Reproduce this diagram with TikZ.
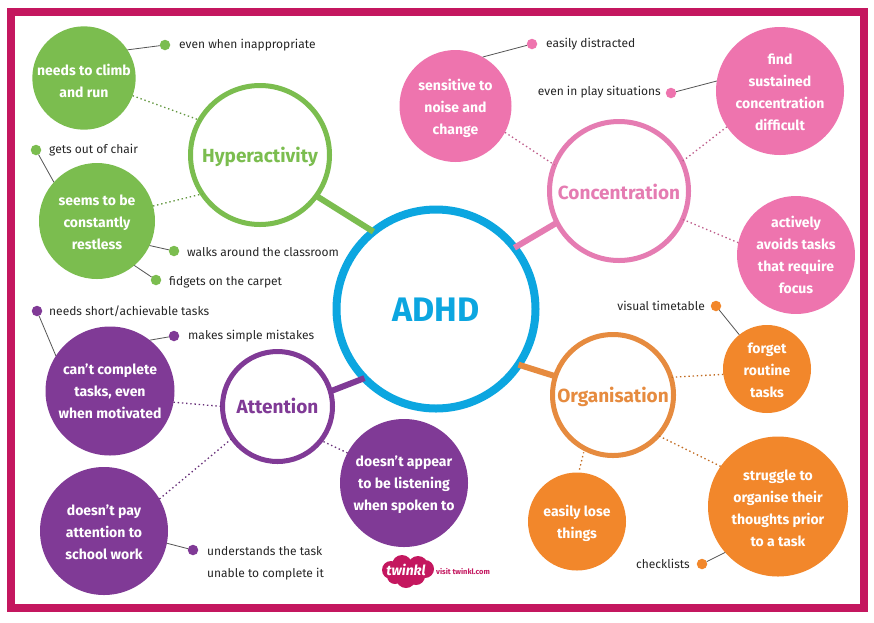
\documentclass[tikz,border=0pt]{standalone}
\usepackage{fontspec}
\setmainfont{Fira Sans}
\definecolor{frame}{HTML}{C4175F}
\definecolor{grn}{HTML}{7BBD4F}
\definecolor{pnk}{HTML}{EE74AE}
\definecolor{pnkr}{HTML}{E57CB2}
\definecolor{ppl}{HTML}{803A96}
\definecolor{org}{HTML}{F2872B}
\definecolor{orgr}{HTML}{E68B3F}
\definecolor{blu}{HTML}{0CA6E0}
\definecolor{wire}{HTML}{555555}
\newcommand\tlines[2][0pt]{\raisebox{-#1}[\height][\depth]{\begin{tabular}{@{}c@{}}#2\end{tabular}}}
\newcommand\tdown[2]{\raisebox{-#1}[\height][\depth]{#2}}
\tikzset{
  x=1pt,y=-1pt,
  leaf/.style n args={2}{circle,fill=#1,minimum size=#2,inner sep=0pt,outer sep=0pt,text=white,font=\fontsize{14}{22}\selectfont\bfseries},
  hub/.style n args={2}{circle,draw=#1,line width=5pt,fill=white,minimum size=#2,inner sep=0pt,outer sep=0pt,text=#1,font=\fontsize{19}{23}\selectfont\bfseries},
  dotn/.style={circle,fill=#1,minimum size=10.5pt,inner sep=0pt,outer sep=0pt},
  lab/.style={font=\fontsize{12}{22}\selectfont,text=black!85,inner sep=0pt,align=left},
  wirel/.style={draw=wire,line width=.8pt},
  dots/.style={draw=#1!80!black,line width=1.3pt,dash pattern=on 1.4pt off 2.8pt},
  stem/.style={draw=#1,line width=6pt}
}
\begin{document}
\begin{tikzpicture}
\useasboundingbox (0,0) rectangle (874,622);
\fill[white] (0,0) rectangle (874,622);
\node[draw=frame,line width=8pt,minimum width=853pt,minimum height=595.5pt,inner sep=0pt,outer sep=0pt] (border) at (437.5,309.75) {};
% hubs
\node[circle,draw=blu,line width=8pt,fill=white,minimum size=199pt,inner sep=0pt,outer sep=0pt,text=blu,font=\fontsize{34}{38}\selectfont\bfseries] (adhd) at (436,309) {\tdown{1pt}{ADHD}};
\node[hub={grn}{139pt}] (hyper) at (260,155) {\tdown{2pt}{Hyperactivity}};
\node[hub={pnkr}{139pt}] (conc) at (619,191) {\tdown{1pt}{Concentration}};
\node[hub={ppl}{110pt}] (att) at (277.5,406.5) {\tdown{-1pt}{Attention}};
\node[hub={orgr}{121pt}] (orga) at (613,395) {\tdown{2pt}{Organisation}};
% leaves
\node[leaf={grn}{102pt}] (climb) at (84,78) {\tlines[4pt]{needs to climb\\and run}};
\node[leaf={grn}{116pt}] (seems) at (97,221) {\tlines[2pt]{seems to be\\constantly\\restless}};
\node[leaf={pnk}{112pt}] (sens) at (455.5,106) {\tlines[2pt]{sensitive to\\noise and\\change}};
\node[leaf={pnk}{128pt}] (find) at (780,91) {\tlines[2pt]{find\\sustained\\concentration\\difficult}};
\node[leaf={pnk}{112pt}] (act) at (796,255) {\tlines[1.5pt]{actively\\avoids tasks\\that require\\focus}};
\node[leaf={org}{88pt}] (forget) at (767,369) {\tlines[2pt]{forget\\routine\\tasks}};
\node[leaf={org}{140pt}] (strug) at (778,506.5) {\tlines[3pt]{struggle to\\organise their\\thoughts prior\\to a task}};
\node[leaf={org}{98pt}] (lose) at (577,521.5) {\tlines[2pt]{easily lose\\things}};
\node[leaf={ppl}{128pt}] (appear) at (404,483) {\tlines[1pt]{doesn't appear\\to be listening\\when spoken to}};
\node[leaf={ppl}{129pt}] (cant) at (110,391) {\tlines[1.5pt]{can't complete\\tasks, even\\when motivated}};
\node[leaf={ppl}{128pt}] (pay) at (104,531) {\tlines[2.5pt]{doesn't pay\\attention to\\school work}};
% thick stems
\draw[stem=grn] (hyper.-36) -- (adhd.129);
\draw[stem=pnkr] (conc.207) -- (adhd.38);
\draw[stem=ppl] (att.16.5) -- (adhd.224);
\draw[stem=orgr] (orga.162) -- (adhd.-34);
% dotted links
\draw[dots=grn] (climb.-20) -- (hyper.150);
\draw[dots=grn] (seems.15) -- (hyper.214);
\draw[dots=pnk] (sens.-28) -- (conc.158);
\draw[dots=pnk] (find.214) -- (conc.25.5);
\draw[dots=pnk] (act.168) -- (conc.-24);
\draw[dots=org] (forget.187) -- (orga.17);
\draw[dots=org] (strug.145) -- (orga.-42);
\draw[dots=org,shorten >=4pt,shorten <=3pt] (lose.88) -- (orga.242);
\draw[dots=ppl] (appear.152) -- (att.-38);
\draw[dots=ppl] (cant.-10) -- (att.180);
\draw[dots=ppl] (pay.30) -- (att.215);
% small dots
\node[dotn=grn] (d1) at (165,45) {};
\node[dotn=grn] (d2) at (36,150) {};
\node[dotn=grn] (d3) at (174,251) {};
\node[dotn=grn] (d4) at (156,280) {};
\node[dotn=ppl] (d5) at (37,311) {};
\node[dotn=ppl] (d6) at (174,336) {};
\node[dotn=ppl] (d7) at (193,550) {};
\node[dotn=pnk] (d8) at (532,44) {};
\node[dotn=pnk] (d9) at (671,93) {};
\node[dotn=org] (d10) at (716,306) {};
\node[dotn=org] (d11) at (702,564) {};
\draw[wirel] (climb.33) -- (d1);
\draw[wirel] (seems.138) -- (d2);
\draw[wirel] (seems.-25) -- (d3);
\draw[wirel] (seems.-50) -- (d4);
\draw[wirel] (cant.147) -- (d5);
\draw[wirel] (cant.52) -- (d6);
\draw[wirel] (pay.-11) -- (d7);
\draw[wirel] (sens.61) -- (d8);
\draw[wirel] (find.171) -- (d9);
\draw[wirel] (forget.129) -- (d10);
\draw[wirel] (strug.221) -- (d11);
% labels
\node[lab,anchor=west] (l1) at (179,45) {even when inappropriate};
\node[lab,anchor=west] (l2) at (49,150) {gets out of chair};
\node[lab,anchor=west] (l3) at (187,252.5) {walks around the classroom};
\node[lab,anchor=west] (l4) at (169,282.5) {fidgets on the carpet};
\node[lab,anchor=west] (l5) at (49,311) {needs short/achievable tasks};
\node[lab,anchor=west] (l6) at (188,336.5) {makes simple mistakes};
\node[lab,anchor=north west] (l7) at (207,546.5) {understands the task\\unable to complete it};
\node[lab,anchor=west] (l8) at (546,44) {easily distracted};
\node[lab,anchor=east] (l9) at (661,92) {even in play situations};
\node[lab,anchor=east] (l10) at (705,306) {visual timetable};
\node[lab,anchor=east] (l11) at (690,564) {checklists};
% logo
\fill[frame] (391,570) circle (9) (402,565) circle (10) (418,566) circle (10) (425,569) circle (9) (406,578) circle (10) (416,576) circle (9) (395,576) circle (8);
\node[text=white,font=\fontsize{14}{14}\selectfont\bfseries\itshape,inner sep=0pt] (logo) at (406,570) {twinkl};
\node[text=frame,font=\fontsize{7.5}{8}\selectfont\bfseries,anchor=west,inner sep=0pt] (visit) at (436,572) {visit twinkl.com};
\end{tikzpicture}
\end{document}
